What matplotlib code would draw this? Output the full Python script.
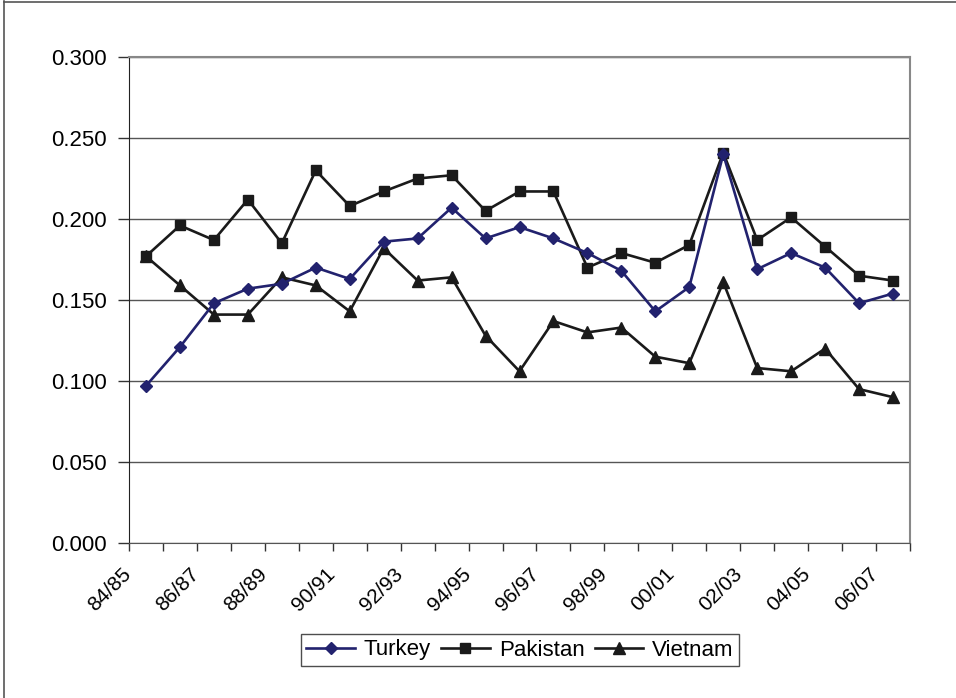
import numpy as np
import matplotlib
matplotlib.use("Agg")
import matplotlib.pyplot as plt
from matplotlib.lines import Line2D

plt.rcParams["font.family"] = ["Liberation Sans", "DejaVu Sans"]

# crop years 84/85 .. 06/07
seasons = ["84/85", "85/86", "86/87", "87/88", "88/89", "89/90", "90/91", "91/92",
           "92/93", "93/94", "94/95", "95/96", "96/97", "97/98", "98/99", "99/00",
           "00/01", "01/02", "02/03", "03/04", "04/05", "05/06", "06/07"]

turkey = [0.097, 0.121, 0.148, 0.157, 0.160, 0.170, 0.163, 0.186, 0.188, 0.207,
          0.188, 0.195, 0.188, 0.179, 0.168, 0.143, 0.158, 0.240, 0.169, 0.179,
          0.170, 0.148, 0.154]
pakistan = [0.177, 0.196, 0.187, 0.212, 0.185, 0.230, 0.208, 0.217, 0.225, 0.227,
            0.205, 0.217, 0.217, 0.170, 0.179, 0.173, 0.184, 0.241, 0.187, 0.201,
            0.183, 0.165, 0.162]
vietnam = [0.177, 0.159, 0.141, 0.141, 0.164, 0.159, 0.143, 0.182, 0.162, 0.164,
           0.128, 0.106, 0.137, 0.130, 0.133, 0.115, 0.111, 0.161, 0.108, 0.106,
           0.120, 0.095, 0.090]

y_ticks = [0.0, 0.05, 0.10, 0.15, 0.20, 0.25, 0.30]

navy = "#22226e"
dark = "#1a1a1a"

fig = plt.figure(figsize=(9.56, 6.98), dpi=100)
ax = fig.add_axes([129 / 956, 1 - 543 / 698, (910 - 129) / 956, (543 - 57) / 698])

x = np.arange(len(seasons))
ax.plot(x, pakistan, color=dark, lw=1.9, marker="s", ms=7.5, label="Pakistan", zorder=3)
ax.plot(x, vietnam, color=dark, lw=1.9, marker="^", ms=8.5, label="Vietnam", zorder=3)
ax.plot(x, turkey, color=navy, lw=1.9, marker="D", ms=6.5, label="Turkey", zorder=4)

ax.set_xlim(-0.5, len(seasons) - 0.5)
ax.set_ylim(0, 0.3)

# y axis
ax.set_yticks(y_ticks)
ax.set_yticklabels([f"{v:.3f}" for v in y_ticks])
ax.tick_params(axis="y", length=8, width=1, pad=8, labelsize=16, color="#333333")
ax.yaxis.grid(True, color="#555555", lw=1)
ax.set_axisbelow(True)

# x axis: ticks at category boundaries, labels every other category
ax.set_xticks(np.arange(-0.5, len(seasons), 1.0))
ax.set_xticklabels([])
ax.tick_params(axis="x", which="major", length=6, width=1, color="#333333")
ax.set_xticks(x[::2] - 0.32, minor=True)
ax.set_xticklabels(seasons[::2], minor=True, rotation=45, ha="right")
ax.tick_params(axis="x", which="minor", length=0, pad=15.5, labelsize=15)

for side in ["top", "right"]:
    ax.spines[side].set_color("#888888")
    ax.spines[side].set_linewidth(1.5)
ax.spines["left"].set_color("#222222")
ax.spines["bottom"].set_color("#555555")

handles = [
    Line2D([], [], color=navy, lw=1.9, marker="D", ms=6.5),
    Line2D([], [], color=dark, lw=1.9, marker="s", ms=7.5),
    Line2D([], [], color=dark, lw=1.9, marker="^", ms=8.5),
]
leg = fig.legend(handles, ["Turkey", "Pakistan", "Vietnam"], loc="center",
                 bbox_to_anchor=(520 / 956, 48 / 698), ncol=3, fontsize=16,
                 frameon=True, fancybox=False, handlelength=2.2, columnspacing=0.45,
                 handletextpad=0.4, borderpad=0.25, borderaxespad=0)
leg.get_frame().set_edgecolor("#222222")
leg.get_frame().set_linewidth(1)

# outer chart border
fig.add_artist(Line2D([4 / 956, 4 / 956], [0, 1 - 1 / 698], transform=fig.transFigure,
                      color="#555555", lw=1.2))
fig.add_artist(Line2D([4 / 956, 1], [1 - 1.5 / 698, 1 - 1.5 / 698], transform=fig.transFigure,
                      color="#555555", lw=1.2))

fig.savefig("out.png", dpi=100)
